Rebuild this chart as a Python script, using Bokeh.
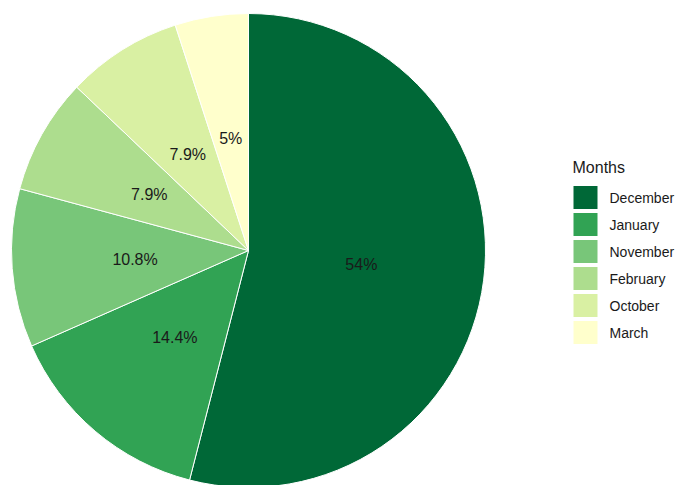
import numpy as np
from bokeh.plotting import figure
from bokeh.models import ColumnDataSource, Range1d
from bokeh.core.properties import value
from bokeh.embed import file_html
from bokeh.resources import INLINE

months = ["December", "January", "November", "February", "October", "March"]
shares = [54.0, 14.4, 10.8, 7.9, 7.9, 5.0]
labels = ["54%", "14.4%", "10.8%", "7.9%", "7.9%", "5%"]
colors = ["#006837", "#31a354", "#78c679", "#addd8e", "#d9f0a3", "#ffffcc"]
legend_title = "Months"

W, H = 675, 485
cx, cy, R = 248, H - 250, 237
FONT = "Liberation Sans"

frac = np.array(shares) / 100.0
cum_end = np.cumsum(frac)
cum_start = cum_end - frac
start = np.pi / 2 - cum_start * 2 * np.pi
end = np.pi / 2 - cum_end * 2 * np.pi
mid = (start + end) / 2
lr = R * 0.48

src = ColumnDataSource(dict(
    month=months, start=start, end=end, color=colors, label=labels,
    lx=cx + lr * np.cos(mid), ly=cy + lr * np.sin(mid),
))

p = figure(width=W, height=H, output_backend="svg", toolbar_location=None,
           x_range=Range1d(0, W), y_range=Range1d(0, H), min_border=0,
           background_fill_color="white", border_fill_color="white")
p.axis.visible = False
p.grid.visible = False
p.outline_line_color = None

p.wedge(x=cx, y=cy, radius=R, start_angle="start", end_angle="end",
        direction="clock", fill_color="color", line_color="white",
        line_width=1, source=src)
p.text(x="lx", y="ly", text="label", source=src, text_align="center",
       text_baseline="middle", text_font=value(FONT),
       text_font_size="16px", text_color="#1a1a1a")

# legend (drawn from the category arrays)
idx = np.arange(len(months))
key_y = H - (197 + 27 * idx)
leg = ColumnDataSource(dict(month=months, color=colors, y=key_y,
                            x=[585] * len(months), tx=[609] * len(months)))
p.rect(x="x", y="y", width=24, height=23, fill_color="color",
       line_color=None, source=leg)
p.text(x="tx", y="y", text="month", source=leg, text_align="left",
       text_baseline="middle", text_font=value(FONT),
       text_font_size="14px", text_color="#1a1a1a")
p.text(x=[572], y=[H - 167], text=[legend_title], text_align="left",
       text_baseline="middle", text_font=value(FONT),
       text_font_size="16px", text_color="#1a1a1a")

open("out.html", "w").write(file_html(p, INLINE))
